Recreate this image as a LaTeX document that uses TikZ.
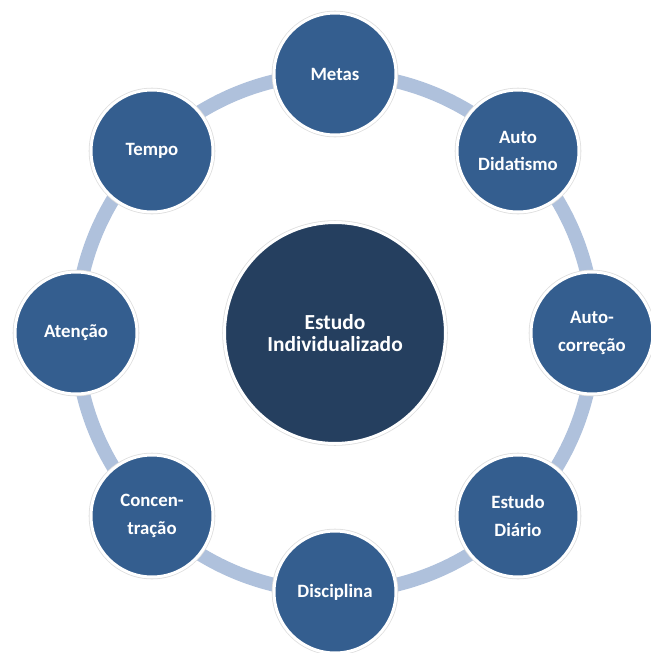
\documentclass[tikz,border=0pt]{standalone}
\usepackage{fontspec}
\setmainfont{Carlito}
\usetikzlibrary{backgrounds}
\begin{document}
\begin{tikzpicture}[x=0.02cm,y=-0.02cm,
  ringline/.style={draw=ringblue,line width=7.9pt},
  bubble/.style={circle,fill=outerblue,text=white,font=\bfseries\fontsize{10.7pt}{15.6pt}\selectfont,
    align=center,minimum size=2.44cm,inner sep=0pt,draw=white,line width=1.7pt,
    preaction={draw=black!13,line width=2.6pt}},
  hub/.style={circle,fill=hubblue,text=white,font=\bfseries\fontsize{12.2pt}{12.8pt}\selectfont,
    align=center,minimum size=4.42cm,inner sep=0pt,draw=white,line width=1.7pt,
    preaction={draw=black!13,line width=2.6pt}}]
\definecolor{outerblue}{HTML}{345E8F}
\definecolor{hubblue}{HTML}{253F5F}
\definecolor{ringblue}{HTML}{AFC1DC}
\useasboundingbox (0,0) rectangle (650,653);

% hub and the eight bubbles on a ring of radius 259 around it
\node[hub] (hub) at (335,333) {Estudo\\Individualizado};
\node[bubble] (metas) at (335,74) {Metas};
\node[bubble] (auto) at (518,151) {Auto\\Didatismo};
\node[bubble] (corr) at (592,333) {Auto-\\corre\c{c}\~ao};
\node[bubble] (diario) at (518,516) {Estudo\\Di\'ario};
\node[bubble] (disc) at (335,592) {Disciplina};
\node[bubble] (conc) at (152,516) {Concen-\\tra\c{c}\~ao};
\node[bubble] (aten) at (76,333) {Aten\c{c}\~ao};
\node[bubble] (tempo) at (152,151) {Tempo};

% the ring joining the bubbles, behind everything
\begin{scope}[on background layer]
  \draw[ringline] (hub.center) circle[radius=259];
\end{scope}
\end{tikzpicture}
\end{document}
